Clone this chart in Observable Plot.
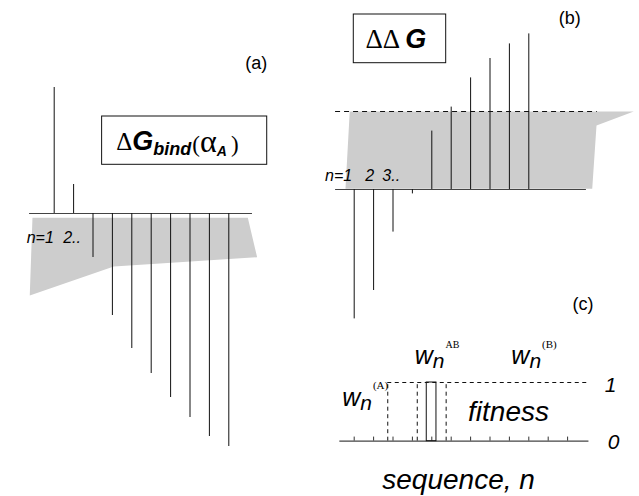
<!DOCTYPE html>
<html>
<head>
<meta charset="utf-8">
<script src="https://cdn.jsdelivr.net/npm/d3@7"></script>
<script src="https://cdn.jsdelivr.net/npm/@observablehq/plot@0.6"></script>
<style>
  body { margin: 0; background: #fff; }
  #fig { position: relative; width: 639px; height: 496px; overflow: hidden; }
  #fig svg { position: absolute; left: 0; top: 0; }
</style>
</head>
<body>
<div id="fig"></div>
<script>
// ---------------- data ----------------
// sequence positions n
const seqN = [1, 2, 3, 4, 5, 6, 7, 8, 9, 10];
// (a) binding free energy per sequence, ΔG_bind(α_A)
const dGbind = [6.3, 1.45, -2.2, -5.1, -6.75, -8.0, -9.2, -10.2, -11.15, -11.65];
// (b) ΔΔG per sequence
const ddG = [-6.47, -5.05, -2.13, -0.22, 2.92, 4.12, 5.58, 6.55, 7.28, 7.78];
const ddGcut = 3.9;
// grey bands (sequence n, energy)
const bandA_n = [-0.12, 10.98, 11.46, 4.07, -0.26];
const bandA_v = [-0.215, -0.215, -2.185, -2.65, -4.1];
const bandB_n = [0.77, 15.41, 13.49, 13.27, 0.55];
const bandB_v = [3.9, 3.9, 3.2, 0.035, 0.035];
// axis extents (sequence n)
const axisA_n = [-0.27, 11.22];
const axisB_n = [0.04, 12.97];
const cutB_n = [0.04, 13.53];
// (c) fitness landscape
const seqC = [1, 2, 3, 4, 5, 6, 7, 8, 9, 10, 11, 12];
const axisC_n = [0.26, 13.1];
const fitTop_n = [2.73, 13.09];
const fitSteps_n = [2.73, 4.25, 5.74];
const fitAB_n = [4.74, 5.24];
const fitLevels = [0, 1];

// ---------------- helpers ----------------
const SANS = "Liberation Sans, Arial, Helvetica, sans-serif";
const SERIF = "Liberation Serif, Times New Roman, serif";
const fig = document.getElementById("fig");
const W = 639, H = 496;

function pts(ns, vs) { return ns.map((n, i) => ({n, v: vs[i]})); }

function rich(svg, key, parts) {
  d3.select(svg).selectAll("text")
    .filter(function () { return this.textContent === key; })
    .each(function () {
      const sel = d3.select(this);
      sel.text(null);
      for (const p of parts) {
        const ts = sel.append("tspan").text(p.t)
          .attr("font-family", p.f || SANS)
          .attr("font-size", p.s)
          .attr("font-weight", p.b ? "bold" : "normal")
          .attr("font-style", p.i ? "italic" : "normal");
        if (p.dx) ts.attr("dx", p.dx);
        if (p.dy) ts.attr("dy", p.dy);
      }
    });
}

const baseStyle = {background: "transparent", overflow: "visible"};

// ---------------- panel (a) ----------------
const tableA = seqN.map((n, i) => ({n, v: dGbind[i]}));
const svgA = Plot.plot({
  width: W, height: H, margin: 0, style: baseStyle,
  x: {domain: [1, 10], range: [53.7, 228.3], axis: null},
  y: {domain: [0, 1], range: [213, 193], axis: null},
  marks: [
    Plot.line(pts(bandA_n, bandA_v), {x: "n", y: "v", fill: "#cdcdcd", stroke: "none"}),
    Plot.ruleY([0], {x1: axisA_n[0], x2: axisA_n[1], stroke: "#444", strokeWidth: 1.2}),
    Plot.ruleX(tableA, {x: "n", y1: 0, y2: "v", stroke: "#111", strokeWidth: 1}),
    Plot.rect([{x1: 3.47, x2: 11.98, y1: 2.435, y2: 4.85}], {x1: "x1", x2: "x2", y1: "y1", y2: "y2", fill: "white", stroke: "#111", strokeWidth: 1}),
    Plot.text([{t: "ΔGbind(αA)", n: 4.2, v: 3.2}], {x: "n", y: "v", text: "t", textAnchor: "start", lineAnchor: "bottom", fill: "black"}),
    Plot.text([{t: "(a)", n: 11.42, v: 7.225}], {x: "n", y: "v", text: "t", textAnchor: "middle", lineAnchor: "bottom", fontSize: 18, fontFamily: SANS, fill: "black"}),
    Plot.text([{t: "n=1", n: 0.979, v: -1.485}], {x: "n", y: "v", text: "t", textAnchor: "end", lineAnchor: "bottom", fontSize: 16, fontFamily: SANS, fontStyle: "italic", fill: "black"}),
    Plot.text([{t: "2..", n: 1.464, v: -1.485}], {x: "n", y: "v", text: "t", textAnchor: "start", lineAnchor: "bottom", fontSize: 16, fontFamily: SANS, fontStyle: "italic", fill: "black"})
  ]
});
rich(svgA, "ΔGbind(αA)", [
  {t: "Δ", f: SERIF, s: 25},
  {t: "G", s: 27, b: true, i: true},
  {t: "bind", s: 18, b: true, i: true, dy: 5},
  {t: "(", f: SERIF, s: 23, dx: 1, dy: -3},
  {t: "α", f: SERIF, s: 32},
  {t: "A", s: 14, b: true, i: true, dx: 0, dy: 4},
  {t: ")", f: SERIF, s: 23, dx: 4, dy: -4}
]);
fig.appendChild(svgA);

// ---------------- panel (b) ----------------
const tableB = seqN.map((n, i) => ({n, v: ddG[i]}));
const svgB = Plot.plot({
  width: W, height: H, margin: 0, style: baseStyle,
  x: {domain: [1, 10], range: [353.7, 528.3], axis: null},
  y: {domain: [0, 1], range: [189, 169], axis: null},
  marks: [
    Plot.line(pts(bandB_n, bandB_v), {x: "n", y: "v", fill: "#cdcdcd", stroke: "none"}),
    Plot.ruleY([ddGcut], {x1: cutB_n[0], x2: cutB_n[1], stroke: "#111", strokeWidth: 1, strokeDasharray: "5,4"}),
    Plot.ruleY([0], {x1: axisB_n[0], x2: axisB_n[1], stroke: "#444", strokeWidth: 1.2}),
    Plot.ruleX(tableB, {x: "n", y1: 0, y2: "v", stroke: "#111", strokeWidth: 1}),
    Plot.rect([{x1: 0.979, x2: 5.742, y1: 6.315, y2: 8.75}], {x1: "x1", x2: "x2", y1: "y1", y2: "y2", fill: "white", stroke: "#111", strokeWidth: 1}),
    Plot.text([{t: "ΔΔG", n: 1.582, v: 7.1}], {x: "n", y: "v", text: "t", textAnchor: "start", lineAnchor: "bottom", fill: "black"}),
    Plot.text([{t: "(b)", n: 12.11, v: 8.3}], {x: "n", y: "v", text: "t", textAnchor: "middle", lineAnchor: "bottom", fontSize: 18, fontFamily: SANS, fill: "black"}),
    Plot.text([{t: "n=1", n: 0.897, v: 0.415}], {x: "n", y: "v", text: "t", textAnchor: "end", lineAnchor: "bottom", fontSize: 16, fontFamily: SANS, fontStyle: "italic", fill: "black"}),
    Plot.text([{t: "2", n: 1.8, v: 0.415}], {x: "n", y: "v", text: "t", textAnchor: "middle", lineAnchor: "bottom", fontSize: 16, fontFamily: SANS, fontStyle: "italic", fill: "black"}),
    Plot.text([{t: "3..", n: 2.45, v: 0.415}], {x: "n", y: "v", text: "t", textAnchor: "start", lineAnchor: "bottom", fontSize: 16, fontFamily: SANS, fontStyle: "italic", fill: "black"})
  ]
});
rich(svgB, "ΔΔG", [
  {t: "ΔΔ", f: SERIF, s: 27},
  {t: "G", s: 27, b: true, i: true, dx: 5}
]);
fig.appendChild(svgB);

// ---------------- panel (c) ----------------
const svgC = Plot.plot({
  width: W, height: H, margin: 0, style: baseStyle,
  x: {domain: [1, 10], range: [353.7, 528.3], axis: null},
  y: {domain: fitLevels, range: [440.7, 382], axis: null},
  marks: [
    Plot.ruleY([1], {x1: fitTop_n[0], x2: fitTop_n[1], stroke: "#111", strokeWidth: 1, strokeDasharray: "4,3.5"}),
    Plot.ruleX(fitSteps_n, {x: d => d, y1: 0, y2: 1, stroke: "#111", strokeWidth: 1, strokeDasharray: "4,3.5"}),
    Plot.ruleX(seqC, {x: d => d, y1: 0, y2: 0.07, stroke: "#333", strokeWidth: 1}),
    Plot.ruleY([0], {x1: axisC_n[0], x2: axisC_n[1], stroke: "#444", strokeWidth: 1.2}),
    Plot.rect([{x1: fitAB_n[0], x2: fitAB_n[1], y1: 0, y2: 1}], {x1: "x1", x2: "x2", y1: "y1", y2: "y2", fill: "none", stroke: "#111", strokeWidth: 1}),
    Plot.text([{t: "wn(A)", n: 0.38, v: 0.608}, {t: "wnAB", n: 4.12, v: 1.307}, {t: "wn(B)", n: 9.1, v: 1.307}],
      {x: "n", y: "v", text: "t", textAnchor: "start", lineAnchor: "bottom", fill: "black"}),
    Plot.text([{t: "fitness", n: 8.954, v: 0.341}, {t: "sequence, n", n: 6.38, v: -0.806}],
      {x: "n", y: "v", text: "t", textAnchor: "middle", lineAnchor: "bottom", fontSize: 28, fontFamily: SANS, fontStyle: "italic", fill: "black"}),
    Plot.text([{t: "1", n: 14.21, v: 0.835}, {t: "0", n: 14.37, v: -0.141}],
      {x: "n", y: "v", text: "t", textAnchor: "middle", lineAnchor: "bottom", fontSize: 21, fontFamily: SANS, fontStyle: "italic", fill: "black"}),
    Plot.text([{t: "(c)", n: 12.79, v: 2.235}], {x: "n", y: "v", text: "t", textAnchor: "middle", lineAnchor: "bottom", fontSize: 18, fontFamily: SANS, fill: "black"})
  ]
});
const wParts = (sup, supSize, supDy) => [
  {t: "w", s: 25, i: true},
  {t: "n", s: 21, i: true, dx: 0, dy: 4},
  {t: sup, f: SERIF, s: supSize, dx: 1, dy: supDy}
];
rich(svgC, "wn(A)", wParts("(A)", 11, -21));
rich(svgC, "wnAB", wParts("AB", 10, -20));
rich(svgC, "wn(B)", wParts("(B)", 11, -20));
fig.appendChild(svgC);
</script>
</body>
</html>
